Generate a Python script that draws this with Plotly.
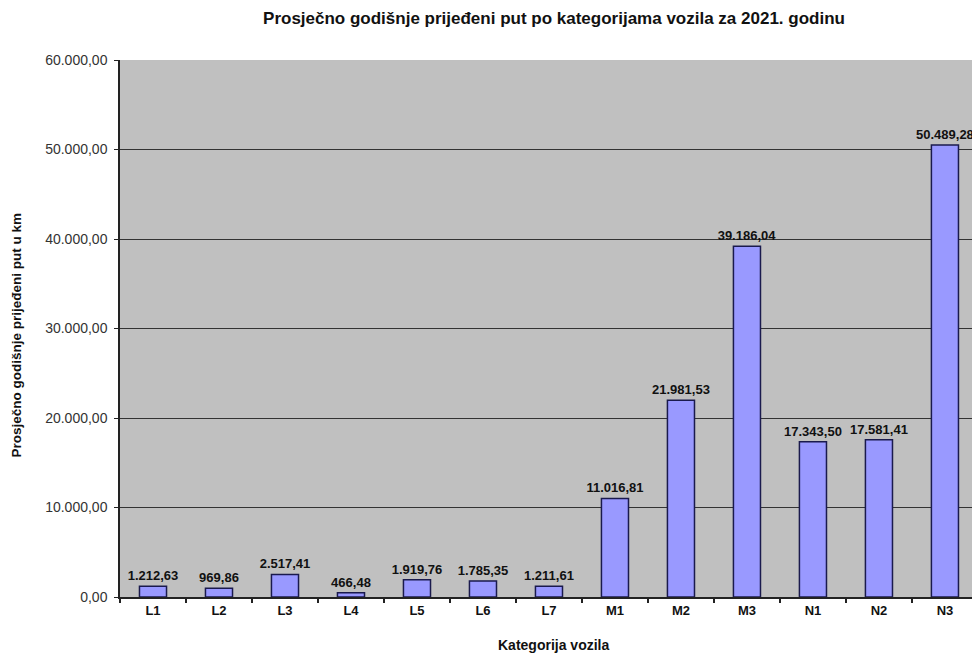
import plotly.graph_objects as go

categories = ["L1", "L2", "L3", "L4", "L5", "L6", "L7", "M1", "M2", "M3", "N1", "N2", "N3"]
values = [1212.63, 969.86, 2517.41, 466.48, 1919.76, 1785.35, 1211.61,
          11016.81, 21981.53, 39186.04, 17343.50, 17581.41, 50489.28]
y_ticks = [0, 10000, 20000, 30000, 40000, 50000, 60000]


def fmt(v):
    s = f"{v:,.2f}"
    return s.replace(",", "X").replace(".", ",").replace("X", ".")


FONT = "Liberation Sans, Arial"
W, H = 972, 654
L, R, T, B = 120, 0, 60, 57

fig = go.Figure()
fig.add_trace(go.Bar(
    x=categories,
    y=values,
    width=0.41,
    marker=dict(color="#9999ff", line=dict(color="#1a1a4d", width=1.5)),
    text=[fmt(v) for v in values],
    textposition="outside",
    textangle=0,
    constraintext="none",
    cliponaxis=False,
    textfont=dict(family=FONT, size=13, color="#111111", weight="bold"),
))

fig.update_layout(
    width=W, height=H,
    margin=dict(l=L, r=R, t=T, b=B),
    paper_bgcolor="white",
    plot_bgcolor="#c0c0c0",
    showlegend=False,
    title=dict(
        text="<b>Prosječno godišnje prijeđeni put po kategorijama vozila za 2021. godinu</b>",
        x=(554 - L) / (W - L - R), xanchor="center", xref="paper",
        y=1 - 18 / H, yref="container", yanchor="middle",
        font=dict(family=FONT, size=17, color="#111111"),
    ),
    font=dict(family=FONT, color="#222222"),
    annotations=[
        dict(
            text="<b>Prosječno godišnje prijeđeni put u km</b>",
            xref="paper", yref="paper", x=0, y=0.5,
            xshift=-(L - 16), yshift=-7,
            xanchor="center", yanchor="middle", textangle=-90, showarrow=False,
            font=dict(family=FONT, size=13.5, color="#111111"),
        ),
        dict(
            text="<b>Kategorija vozila</b>",
            xref="paper", yref="paper", x=(553 - L) / (W - L - R), y=0,
            yshift=-48, xanchor="center", yanchor="middle", showarrow=False,
            font=dict(family=FONT, size=14, color="#111111"),
        ),
    ],
)

fig.update_xaxes(
    type="category",
    range=[-0.5, 12.41],
    automargin=False,
    tickfont=dict(size=13, color="#111111", weight="bold"),
    showline=True, linecolor="#222222", linewidth=2,
    ticks="outside", tickson="boundaries", ticklen=4, tickcolor="#222222", tickwidth=1.5,
    showgrid=False, zeroline=False,
)

fig.update_yaxes(
    range=[0, 60000],
    automargin=False,
    tickmode="array",
    tickvals=y_ticks,
    ticktext=[fmt(v) for v in y_ticks],
    tickfont=dict(size=14, color="#333333"),
    ticklabelstandoff=4,
    showline=True, linecolor="#222222", linewidth=1.5,
    ticks="outside", ticklen=4, tickcolor="#222222",
    showgrid=True, gridcolor="#333333", gridwidth=1.2,
    zeroline=False,
)

fig.write_html(
    "out.html",
    config={"displayModeBar": False},
    post_script="document.body.style.margin='0';document.body.style.overflow='hidden';",
)
